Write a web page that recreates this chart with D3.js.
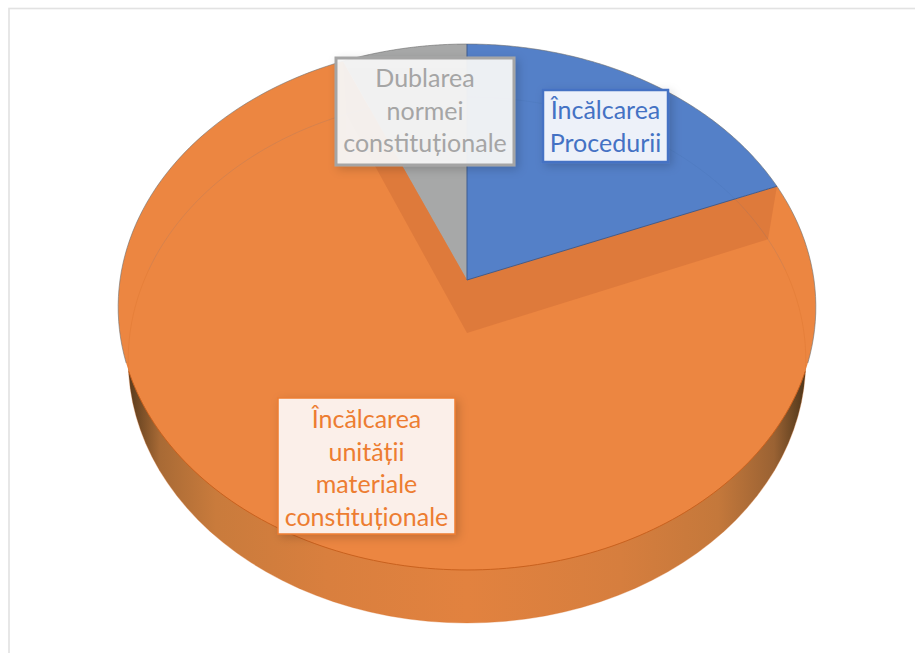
<!DOCTYPE html>
<html>
<head>
<meta charset="utf-8">
<script src="https://cdn.jsdelivr.net/npm/d3@7"></script>
<style>
html,body{margin:0;padding:0;background:#fff;overflow:hidden}
svg{display:block}
text{font-family:Lato,"Open Sans",sans-serif;text-anchor:middle}
</style>
</head>
<body>
<svg id="chart" width="915" height="653"></svg>
<script>
// Series, in clockwise order from twelve o'clock
const categories = ["Încălcarea Procedurii", "Încălcarea unității materiale constituționale", "Dublarea normei constituționale"];
const shares = [18.9, 74.7, 6.4];
const sliceColors = ["#5480c8", "#ec8641", "#a7a8a8"];
const labelColors = ["#4472c4", "#ed7d31", "#a5a5a5"];
const labelLines = [
  ["Încălcarea", "Procedurii"],
  ["Încălcarea", "unității", "materiale", "constituționale"],
  ["Dublarea", "normei", "constituționale"]
];
const labelBoxes = [
  {x: 543, y: 90, w: 125, h: 72, sw: 2.5, fill: "rgba(242,246,252,0.96)", lh: 32.5, ty: 119},
  {x: 278, y: 398, w: 177, h: 136, sw: 1.5, fill: "rgba(252,243,238,0.97)", lh: 32.5, ty: 428},
  {x: 336, y: 58, w: 178, h: 107, sw: 3, fill: "rgba(246,246,247,0.94)", lh: 32.5, ty: 87}
];

const svg = d3.select("#chart");
const defs = svg.append("defs");

// Tilted disc: a perspective map from the unit circle to the page
const persp = 54 / 526;
const topDisc = {cx: 467, cy: 280, ax: 347, ay: 260.2};
const baseDisc = {cx: 467, cy: 333, ax: 337, ay: 260.2};
const project = (disc, angle, r = 1) => {
  const u = r * Math.sin(angle), v = r * Math.cos(angle), w = 1 + persp * v;
  return [disc.cx + disc.ax * u / w, disc.cy - disc.ay * v / w];
};
const sweep = (a0, a1) => d3.range(0, 121).map(i => a0 + (a1 - a0) * i / 120);
const line = d3.line();
const ring = (disc, a0 = 0, a1 = 2 * Math.PI) => sweep(a0, a1).map(a => project(disc, a));

const arcs = d3.pie().sort(null).value(d => d)(shares);

// Wall shading, darkest where the rim turns away
const wall = defs.append("linearGradient").attr("id", "wall")
  .attr("gradientUnits", "userSpaceOnUse")
  .attr("x1", 118).attr("x2", 816).attr("y1", 0).attr("y2", 0);
[[0, "#3d2a14"], [0.025, "#6a4522"], [0.06, "#a86a35"], [0.14, "#c97b3c"], [0.3, "#d97f3e"],
 [0.5, "#e2823f"], [0.72, "#d67e3e"], [0.86, "#c4783b"], [0.94, "#9a6233"], [0.975, "#5f4020"], [1, "#33240f"]]
  .forEach(([o, c]) => wall.append("stop").attr("offset", o).attr("stop-color", c));

const shadow = defs.append("filter").attr("id", "boxShadow")
  .attr("x", "-20%").attr("y", "-20%").attr("width", "140%").attr("height", "140%");
shadow.append("feDropShadow").attr("dx", 3).attr("dy", 3).attr("stdDeviation", 5)
  .attr("flood-color", "#000").attr("flood-opacity", 0.18);

// Chart frame, running off the right and bottom of the page
svg.append("rect").attr("x", 9).attr("y", 8.5).attr("width", 930).attr("height", 680)
  .attr("fill", "#fff").attr("stroke", "#e2e2e2").attr("stroke-width", 1.6);

// Side wall, then the base disc seen from above
svg.append("path").attr("d", line(ring(baseDisc)) + "Z").attr("fill", "url(#wall)");

// Top face slices
const slices = svg.append("g");
slices.selectAll("path").data(arcs).join("path")
  .attr("d", d => line([[topDisc.cx, topDisc.cy], ...ring(topDisc, d.startAngle, d.endAngle)]) + "Z")
  .attr("fill", (d, i) => sliceColors[i]);

// Thin grey outline on the far side of the top face
svg.append("path").attr("d", line(ring(topDisc, -Math.PI * 0.6, Math.PI * 0.6)))
  .attr("fill", "none").attr("stroke", "#6f6f6f").attr("stroke-opacity", 0.6).attr("stroke-width", 1);

// Inner walls of the cut, seen through the orange face
const cuts = [arcs[0].endAngle, arcs[2].startAngle];
svg.append("g").selectAll("path").data(cuts).join("path")
  .attr("d", a => line([[topDisc.cx, topDisc.cy], project(topDisc, a), project(baseDisc, a), [baseDisc.cx, baseDisc.cy]]) + "Z")
  .attr("fill", "#d9763a").attr("fill-opacity", 0.75);

// Base outline showing faintly through the top face
svg.append("path").attr("d", line(ring(baseDisc, -Math.PI * 0.42, Math.PI * 0.42)))
  .attr("fill", "none").attr("stroke", "#3c5f9e").attr("stroke-opacity", 0.12);
svg.append("path").attr("d", line(ring(baseDisc, Math.PI * 0.42, Math.PI * 1.58)))
  .attr("fill", "none").attr("stroke", "#d8702c").attr("stroke-opacity", 0.3);

// Near rim, where the top face meets the wall
svg.append("path").attr("d", line(ring(topDisc, Math.PI * 0.61, Math.PI * 1.39)))
  .attr("fill", "none").attr("stroke", "#c9611e").attr("stroke-width", 1);

// Slice edges along the blue wedge
svg.append("g").selectAll("path").data([arcs[0].startAngle, arcs[0].endAngle]).join("path")
  .attr("d", a => line([[topDisc.cx, topDisc.cy], project(topDisc, a)]))
  .attr("stroke", "#3f5c8f").attr("stroke-width", 1).attr("fill", "none");

// Data labels
const labels = svg.selectAll("g.label").data(labelBoxes).join("g").attr("class", "label");
labels.append("rect")
  .attr("x", d => d.x).attr("y", d => d.y).attr("width", d => d.w).attr("height", d => d.h)
  .attr("fill", d => d.fill)
  .attr("stroke", (d, i) => labelColors[i]).attr("stroke-width", d => d.sw)
  .attr("filter", "url(#boxShadow)");
labels.each(function (d, i) {
  d3.select(this).selectAll("text").data(labelLines[i]).join("text")
    .attr("x", d.x + d.w / 2)
    .attr("y", (t, k) => d.ty + k * d.lh)
    .attr("font-size", 25)
    .attr("fill", labelColors[i])
    .text(t => t);
});
</script>
</body>
</html>
